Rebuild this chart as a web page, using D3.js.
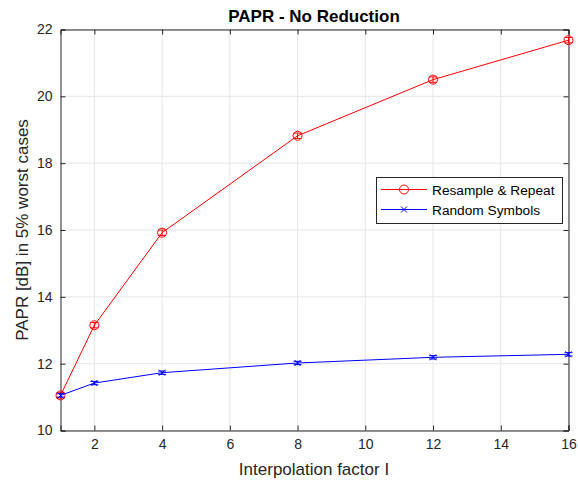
<!DOCTYPE html>
<html><head><meta charset="utf-8">
<script src="https://cdn.jsdelivr.net/npm/d3@7"></script>
<style>body{margin:0;background:#fff}text{font-family:Helvetica,"Liberation Sans",Arial,sans-serif}</style>
</head><body><svg id="c" width="578" height="482"></svg>
<script>
const xValues = [1, 2, 4, 8, 12, 16];
const resampleRepeat = [11.05, 13.15, 15.92, 18.82, 20.5, 21.68];
const randomSymbols = [11.05, 11.42, 11.73, 12.02, 12.19, 12.28];
const errRR = [0.08, 0.08, 0.08, 0.08, 0.08, 0.08];
const errRS = [0.05, 0.05, 0.05, 0.05, 0.05, 0.05];
const xTicks = [2, 4, 6, 8, 10, 12, 14, 16];
const yTicks = [10, 12, 14, 16, 18, 20, 22];
const seriesNames = ["Resample & Repeat", "Random Symbols"];

const svg = d3.select("#c");
const L = 60.5, R = 568.5, T = 29.5, B = 430.5;
const x = d3.scaleLinear().domain([1, 16]).range([L, R]);
const y = d3.scaleLinear().domain([10, 22]).range([B, T]);
const axisCol = "#262626";

// grid
svg.append("g").selectAll("line").data(xTicks).join("line")
  .attr("x1", d => x(d)).attr("x2", d => x(d)).attr("y1", T).attr("y2", B)
  .attr("stroke", "#e6e6e6").attr("stroke-width", 1);
svg.append("g").selectAll("line").data(yTicks).join("line")
  .attr("x1", L).attr("x2", R).attr("y1", d => y(d)).attr("y2", d => y(d))
  .attr("stroke", "#e6e6e6").attr("stroke-width", 1);

// axes
const fs = "14px";
const gx = svg.append("g").attr("transform", `translate(0,${B})`)
  .call(d3.axisBottom(x).tickValues(xTicks).tickSize(-5).tickPadding(9));
const gxt = svg.append("g").attr("transform", `translate(0,${T})`)
  .call(d3.axisTop(x).tickValues(xTicks).tickSize(-5).tickFormat(""));
const gy = svg.append("g").attr("transform", `translate(${L},0)`)
  .call(d3.axisLeft(y).tickValues(yTicks).tickSize(-5).tickPadding(8));
const gyr = svg.append("g").attr("transform", `translate(${R},0)`)
  .call(d3.axisRight(y).tickValues(yTicks).tickSize(-5).tickFormat(""));
[gx, gxt, gy, gyr].forEach(g => {
  g.selectAll("path").attr("stroke", axisCol);
  g.selectAll("line").attr("stroke", axisCol);
  g.selectAll("text").attr("fill", axisCol).style("font-size", fs);
});

function drawSeries(vals, errs, color, marker) {
  const pts = xValues.map((xv, i) => ({x: xv, y: vals[i], e: errs[i]}));
  svg.append("path").datum(pts)
    .attr("d", d3.line().x(d => x(d.x)).y(d => y(d.y)))
    .attr("fill", "none").attr("stroke", color).attr("stroke-width", 1);
  const g = svg.append("g");
  pts.forEach(p => {
    const cx = x(p.x), y1 = y(p.y - p.e), y2 = y(p.y + p.e);
    g.append("line").attr("x1", cx).attr("x2", cx).attr("y1", y1).attr("y2", y2).attr("stroke", color);
    g.append("line").attr("x1", cx - 4).attr("x2", cx + 4).attr("y1", y1).attr("y2", y1).attr("stroke", color);
    g.append("line").attr("x1", cx - 4).attr("x2", cx + 4).attr("y1", y2).attr("y2", y2).attr("stroke", color);
    drawMarker(g, marker, cx, y(p.y), color);
  });
}
function drawMarker(g, marker, cx, cy, color) {
  if (marker === "o") {
    g.append("circle").attr("cx", cx).attr("cy", cy).attr("r", 4.5)
      .attr("fill", "none").attr("stroke", color).attr("stroke-width", 1);
  } else {
    g.append("path").attr("d", `M${cx-3},${cy-3}L${cx+3},${cy+3}M${cx-3},${cy+3}L${cx+3},${cy-3}`)
      .attr("stroke", color).attr("stroke-width", 1);
  }
}
drawSeries(resampleRepeat, errRR, "#ff0000", "o");
drawSeries(randomSymbols, errRS, "#0000ff", "x");

// legend
const lg = svg.append("g");
lg.append("rect").attr("x", 376.5).attr("y", 177.5).attr("width", 186).attr("height", 46)
  .attr("fill", "#fff").attr("stroke", axisCol).attr("stroke-width", 1);
const legendItems = [{name: seriesNames[0], color: "#ff0000", m: "o"}, {name: seriesNames[1], color: "#0000ff", m: "x"}];
legendItems.forEach((it, i) => {
  const ly = 189.5 + i * 20;
  lg.append("line").attr("x1", 381).attr("x2", 427).attr("y1", ly).attr("y2", ly).attr("stroke", it.color);
  drawMarker(lg, it.m, 404, ly, it.color);
  lg.append("text").attr("x", 432).attr("y", ly + 5).text(it.name)
    .style("font-size", "13.7px").attr("fill", "#000");
});

// title and labels
svg.append("text").attr("x", 314).attr("y", 22).attr("text-anchor", "middle")
  .style("font-size", "17px").style("font-weight", "bold").attr("fill", "#000").text("PAPR - No Reduction");
svg.append("text").attr("x", 314).attr("y", 475).attr("text-anchor", "middle")
  .style("font-size", "17px").attr("fill", axisCol).text("Interpolation factor I");
svg.append("text").attr("transform", `translate(28,${(T+B)/2}) rotate(-90)`).attr("text-anchor", "middle")
  .style("font-size", "17px").attr("fill", axisCol).text("PAPR [dB] in 5% worst cases");
</script></body></html>
